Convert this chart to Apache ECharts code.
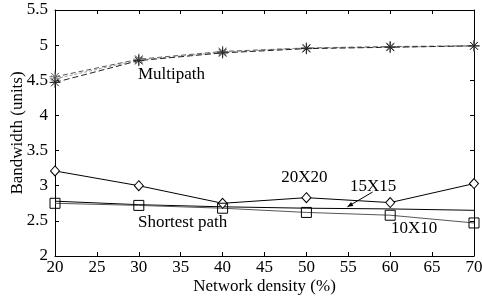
<!DOCTYPE html>
<html>
<head>
<meta charset="utf-8">
<script src="https://cdn.jsdelivr.net/npm/echarts@6/dist/echarts.min.js"></script>
<style>
  html, body { margin: 0; padding: 0; background: #fff; }
  #chart { width: 482px; height: 297px; }
</style>
</head>
<body>
<div id="chart"></div>
<script>
// network density (%)
const density = [20, 30, 40, 50, 60, 70]
// multipath runs (three overlapping dashed curves)
const multiA = [4.55, 4.80, 4.91, 4.96, 4.98, 4.99]
const multiB = [4.52, 4.79, 4.90, 4.96, 4.97, 4.99]
const multiC = [4.47, 4.78, 4.89, 4.95, 4.97, 4.99]
// shortest path runs
const grid20 = [3.21, 3.00, 2.75, 2.83, 2.76, 3.03]
const grid15 = [2.78, 2.73, 2.70, 2.68, 2.67, 2.65]
const grid10 = [2.75, 2.72, 2.68, 2.62, 2.58, 2.47]

const font = 'Liberation Serif'
const fs = 17
const star = 'path://M0,-10L0,10M-10,0L10,0M-7,-7L7,7M-7,7L7,-7'
const pairs = (ys) => density.map((x, i) => [x, ys[i]])

const chart = echarts.init(document.getElementById('chart'))

const multiSeries = (ys, color, dash) => ({
  type: 'line',
  data: pairs(ys),
  symbol: star,
  symbolSize: 11,
  itemStyle: { color: 'transparent', borderColor: color, borderWidth: 1 },
  lineStyle: { color: color, width: 1, type: dash },
  silent: true,
  animation: false
})

const option = {
  animation: false,
  grid: { left: 55, right: 8, top: 10, bottom: 41, containLabel: false, outerBoundsMode: 'none' },
  xAxis: [
    {
      type: 'value', min: 20, max: 70, interval: 5,
      name: 'Network density (%)', nameLocation: 'middle', nameGap: 22, nameMoveOverlap: false,
      nameTextStyle: { fontFamily: font, fontSize: fs, color: '#000' },
      axisLine: { lineStyle: { color: '#000', width: 1 } },
      axisTick: { inside: true, length: 4, lineStyle: { color: '#000' } },
      axisLabel: { fontFamily: font, fontSize: fs, color: '#000', margin: 3 },
      splitLine: { show: false }
    },
    {
      type: 'value', min: 20, max: 70, interval: 5, position: 'top',
      axisLine: { lineStyle: { color: '#000', width: 1 } },
      axisTick: { inside: true, length: 4, lineStyle: { color: '#000' } },
      axisLabel: { show: false },
      splitLine: { show: false }
    }
  ],
  yAxis: [
    {
      type: 'value', min: 2, max: 5.5, interval: 0.5,
      name: 'Bandwidth (units)', nameLocation: 'middle', nameGap: 29, nameMoveOverlap: false,
      nameTextStyle: { fontFamily: font, fontSize: fs, color: '#000' },
      axisLine: { show: true, lineStyle: { color: '#000', width: 1 } },
      axisTick: { show: true, inside: true, length: 4, lineStyle: { color: '#000' } },
      axisLabel: { fontFamily: font, fontSize: fs, color: '#000', margin: 7 },
      splitLine: { show: false }
    },
    {
      type: 'value', min: 2, max: 5.5, interval: 0.5, position: 'right',
      axisLine: { show: true, lineStyle: { color: '#000', width: 1 } },
      axisTick: { show: true, inside: true, length: 4, lineStyle: { color: '#000' } },
      axisLabel: { show: false },
      splitLine: { show: false }
    }
  ],
  series: [
    multiSeries(multiA, '#555', [5, 3]),
    multiSeries(multiB, '#999', [3, 2]),
    multiSeries(multiC, '#222', [6, 3]),
    {
      type: 'line', data: pairs(grid15), symbol: 'none',
      lineStyle: { color: '#000', width: 1 }, silent: true
    },
    {
      type: 'line', data: pairs(grid20), symbol: 'diamond', symbolSize: [9, 10],
      itemStyle: { color: '#fff', borderColor: '#000', borderWidth: 1 },
      lineStyle: { color: '#000', width: 1 }, silent: true
    },
    {
      type: 'line', data: pairs(grid10), symbol: 'rect', symbolSize: 10,
      itemStyle: { color: 'transparent', borderColor: '#000', borderWidth: 1 },
      lineStyle: { color: '#555', width: 1 }, silent: true
    }
  ]
}
chart.setOption(option)

// annotations placed in data coordinates
const px = (x, y) => chart.convertToPixel({ xAxisIndex: 0, yAxisIndex: 0 }, [x, y])
const label = (text, x, y) => {
  const p = px(x, y)
  return {
    type: 'text', x: p[0], y: p[1],
    style: { text: text, fontFamily: font, fontSize: fs, fill: '#000', verticalAlign: 'middle' }
  }
}
const a0 = px(57.9, 2.91)
const a1 = px(54.9, 2.70)
const ang = Math.atan2(a1[1] - a0[1], a1[0] - a0[0])
const head = (s) => [a1[0] - 6 * Math.cos(ang + s * 0.4), a1[1] - 6 * Math.sin(ang + s * 0.4)]

chart.setOption({
  graphic: [
    label('Multipath', 29.9, 4.58),
    label('Shortest path', 29.9, 2.48),
    label('20X20', 47.0, 3.11),
    label('15X15', 55.2, 2.99),
    label('10X10', 60.1, 2.39),
    {
      type: 'line',
      shape: { x1: a0[0], y1: a0[1], x2: a1[0], y2: a1[1] },
      style: { stroke: '#000', lineWidth: 1 }
    },
    {
      type: 'polygon',
      shape: { points: [a1, head(1), head(-1)] },
      style: { fill: '#000' }
    }
  ]
})
</script>
</body>
</html>
